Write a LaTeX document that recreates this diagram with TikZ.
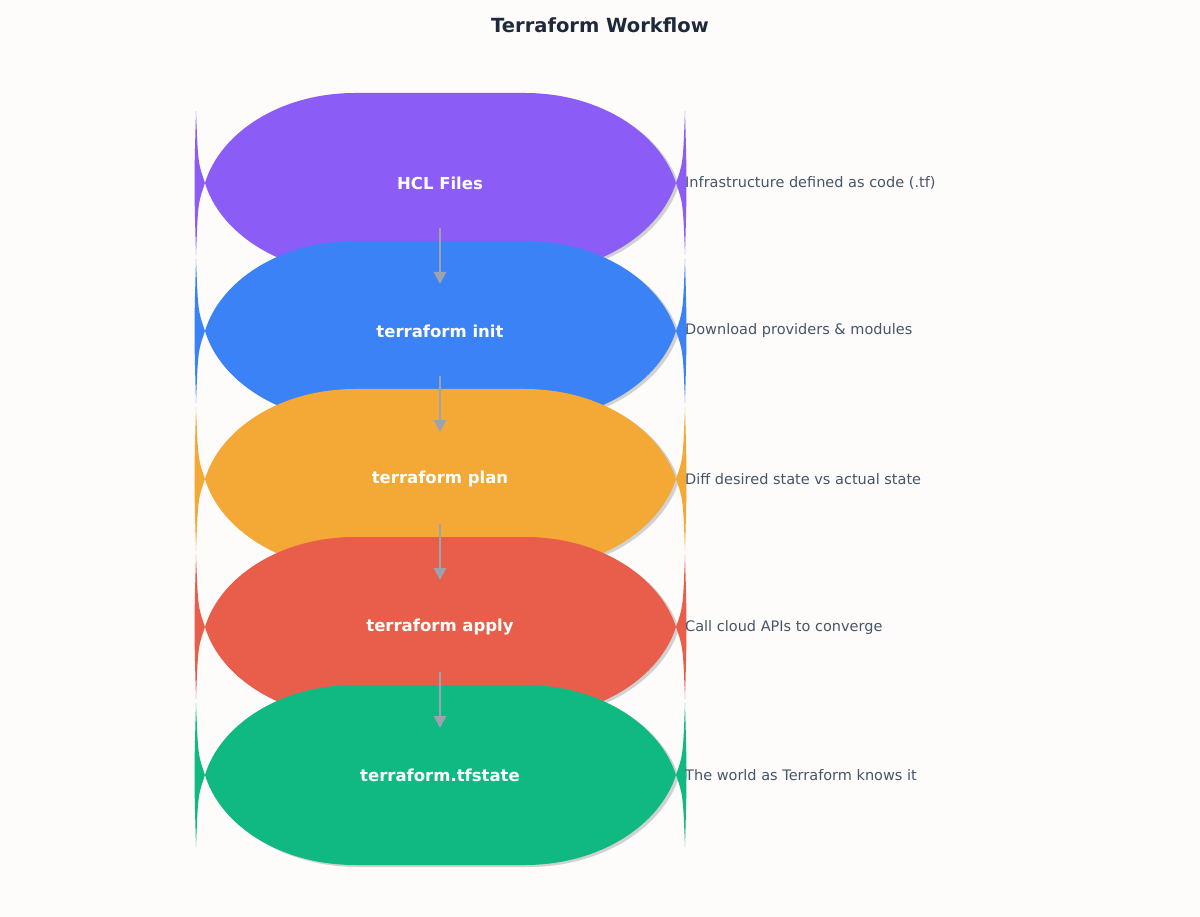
\documentclass[tikz,border=0pt]{standalone}
\usepackage{fontspec}
\setmainfont{DejaVu Sans}
\usetikzlibrary{arrows.meta}
\definecolor{bg}{HTML}{FDFCFB}
\definecolor{ttl}{HTML}{1E293B}
\definecolor{side}{HTML}{475569}
\definecolor{arr}{HTML}{9CA3AF}
\definecolor{c0}{HTML}{8B5CF6}
\definecolor{c1}{HTML}{3B82F6}
\definecolor{c2}{HTML}{F4A836}
\definecolor{c3}{HTML}{E85E4B}
\definecolor{c4}{HTML}{10B981}
\tikzset{
  lbl/.style={text=white,font=\fontsize{16.5}{20}\selectfont\bfseries},
  desc/.style={text=side,anchor=west,inner sep=0pt,font=\fontsize{14.5}{18}\selectfont},
  flow/.style={arr,line width=2.6pt,-{Triangle[length=12pt,width=12pt]}}
}
\newcommand{\pill}[2]{%
  \fill[black!18] (358,#1-88) -- (528,#1-88) .. controls (603,#1-88) and (663,#1-48) .. (679,#1+2) .. controls (663,#1+52) and (603,#1+92) .. (528,#1+92) -- (358,#1+92) .. controls (283,#1+92) and (223,#1+52) .. (208,#1+2) .. controls (223,#1-48) and (283,#1-88) .. cycle;
  \fill[#2] (355,#1-90) -- (525,#1-90) .. controls (600,#1-90) and (660,#1-50) .. (676,#1) .. controls (660,#1+50) and (600,#1+90) .. (525,#1+90) -- (355,#1+90) .. controls (280,#1+90) and (220,#1+50) .. (205,#1) .. controls (220,#1-50) and (280,#1-90) .. cycle;
  \fill[#2] (196,#1-72) .. controls (198,#1-20) .. (205,#1) .. controls (198,#1+20) .. (196,#1+72) .. controls (194,#1) .. cycle;
  \fill[#2] (685,#1-72) .. controls (683,#1-20) .. (676,#1) .. controls (683,#1+20) .. (685,#1+72) .. controls (687,#1) .. cycle;
}
\begin{document}
\begin{tikzpicture}[x=1pt,y=-1pt]
\fill[bg] (0,0) rectangle (1200,917);
\useasboundingbox (0,0) rectangle (1200,917);
\node[text=ttl,font=\fontsize{19.5}{24}\selectfont\bfseries] (title) at (600,25) {Terraform Workflow};
\pill{183}{c0}
\pill{331}{c1}
\pill{479}{c2}
\pill{627}{c3}
\pill{775}{c4}
\node[lbl] (n0) at (440,183) {HCL Files};
\node[lbl] (n1) at (440,331) {terraform init};
\node[lbl] (n2) at (440,479) {terraform plan};
\node[lbl] (n3) at (440,627) {terraform apply};
\node[lbl] (n4) at (440,775) {terraform.tfstate};
\node[desc] (d0) at (685,183) {Infrastructure defined as code (.tf)};
\node[desc] (d1) at (685,331) {Download providers \& modules};
\node[desc] (d2) at (685,479) {Diff desired state vs actual state};
\node[desc] (d3) at (685,627) {Call cloud APIs to converge};
\node[desc] (d4) at (685,775) {The world as Terraform knows it};
\foreach \i/\c in {0/183,1/331,2/479,3/627}{
  \coordinate (s\i) at (440,\c+45);
  \coordinate (e\i) at (440,\c+101);
  \draw[flow] (s\i) -- (e\i);
}
\end{tikzpicture}
\end{document}
